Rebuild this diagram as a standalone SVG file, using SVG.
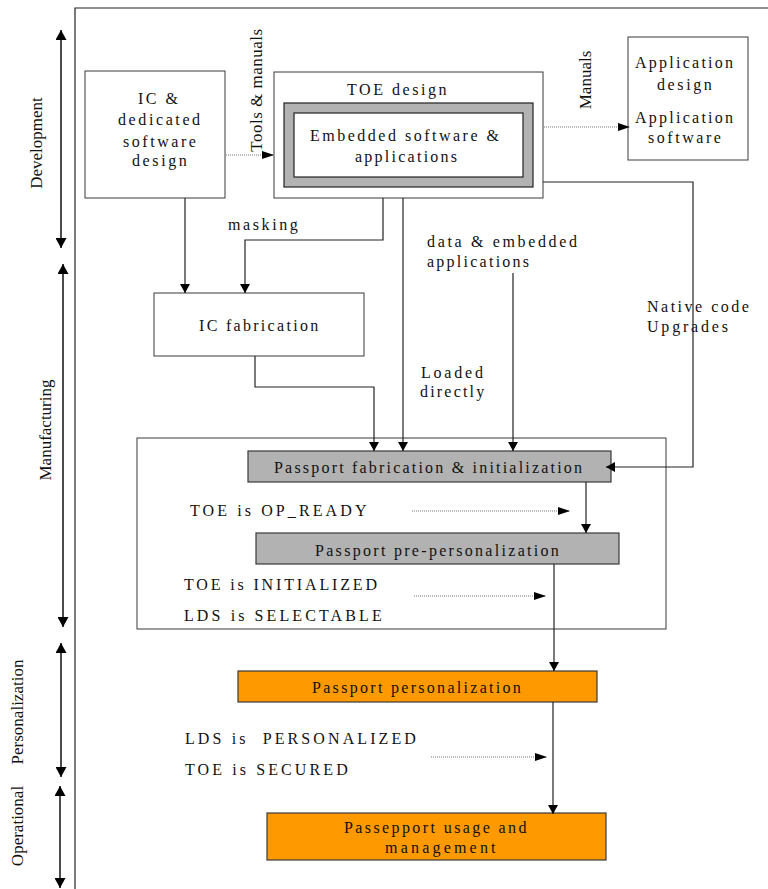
<svg xmlns="http://www.w3.org/2000/svg" width="768" height="889" viewBox="0 0 768 889">
<style>
text{font-family:'Liberation Serif','Times New Roman',serif;font-size:16px;fill:#111}
.box{fill:#fff;stroke:#3a3a3a;stroke-width:1}
.frame-box{fill:none;stroke:#3a3a3a;stroke-width:1}
.gray{fill:#b2b2b2;stroke:#3a3a3a;stroke-width:1.2}
.orange{fill:#ff9900;stroke:#3a3a3a;stroke-width:1.2}
.ln{fill:none;stroke:#222;stroke-width:1.2}
.dot{fill:none;stroke:#777;stroke-width:1;stroke-dasharray:1 1}
.phase{fill:none;stroke:#111;stroke-width:1.5}
.frame{fill:none;stroke:#222;stroke-width:1.2}
.rot{font-size:17px}
</style>
<defs>
<marker id="ah" viewBox="0 0 9 10" refX="9" refY="5" markerWidth="9" markerHeight="10" orient="auto" markerUnits="userSpaceOnUse"><path d="M0,0 L9,5 L0,10 z" fill="#000"/></marker>
<marker id="ahd" viewBox="0 0 12 8" refX="12" refY="4" markerWidth="12" markerHeight="8" orient="auto" markerUnits="userSpaceOnUse"><path d="M0,0 L12,4 L0,8 z" fill="#000"/></marker>
<marker id="ph" viewBox="0 0 10 11" refX="10" refY="5.5" markerWidth="10" markerHeight="11" orient="auto-start-reverse" markerUnits="userSpaceOnUse"><path d="M0,0 L10,5.5 L0,11 z" fill="#000"/></marker>
</defs>

<g id="frame">
<path class="frame" d="M75,889 V8 H768"/>
</g>

<g id="manufacturing-box">
<rect class="frame-box" x="137" y="438" width="529" height="191"/>
</g>

<g id="phases">
<path class="phase" d="M61,30 V248" marker-start="url(#ph)" marker-end="url(#ph)"/>
<text class="rot" transform="translate(42,143) rotate(-90)" text-anchor="middle">Development</text>
<path class="phase" d="M63,264 V627" marker-start="url(#ph)" marker-end="url(#ph)"/>
<text class="rot" transform="translate(51,430) rotate(-90)" text-anchor="middle">Manufacturing</text>
<path class="phase" d="M61,643 V777" marker-start="url(#ph)" marker-end="url(#ph)"/>
<text class="rot" transform="translate(23,712) rotate(-90)" text-anchor="middle">Personalization</text>
<path class="phase" d="M60,786 V888" marker-start="url(#ph)" marker-end="url(#ph)"/>
<text class="rot" transform="translate(23,826) rotate(-90)" text-anchor="middle">Operational</text>
</g>

<g id="ic-design">
<rect class="box" x="85" y="71" width="140" height="127"/>
<text x="138" y="104" letter-spacing="2.5">IC &amp;</text>
<text x="118" y="125" letter-spacing="2.6">dedicated</text>
<text x="123" y="147" letter-spacing="2.55">software</text>
<text x="132" y="166" letter-spacing="2.6">design</text>
</g>

<g id="toe-design">
<rect class="box" x="274" y="72" width="269" height="126"/>
<text x="347" y="95" letter-spacing="2.55">TOE design</text>
<rect x="284" y="103" width="249" height="84" fill="#b2b2b2" stroke="#222" stroke-width="1.2"/>
<rect x="294" y="113" width="229" height="64" fill="#fff" stroke="#222" stroke-width="1.2"/>
<text x="310" y="141" letter-spacing="2.5">Embedded software &amp;</text>
<text x="355" y="162" letter-spacing="2.25">applications</text>
</g>

<g id="application">
<rect class="box" x="628" y="37" width="120" height="123"/>
<text x="635" y="68" letter-spacing="2.25">Application</text>
<text x="657" y="90" letter-spacing="2.6">design</text>
<text x="635" y="123" letter-spacing="2.25">Application</text>
<text x="648" y="143" letter-spacing="2.55">software</text>
</g>

<g id="ic-fabrication">
<rect class="box" x="154" y="293" width="210" height="63"/>
<text x="199" y="331" letter-spacing="2.3">IC fabrication</text>
</g>

<g id="passport-fabrication">
<rect class="gray" x="248" y="451" width="363" height="31"/>
<text x="274" y="473" letter-spacing="2.2">Passport fabrication &amp; initialization</text>
</g>

<g id="pre-personalization">
<rect class="gray" x="256" y="533" width="363" height="31"/>
<text x="315" y="556" letter-spacing="2.3">Passport pre-personalization</text>
</g>

<g id="personalization">
<rect class="orange" x="238" y="671" width="359" height="31"/>
<text x="312" y="693" letter-spacing="2.3">Passport personalization</text>
</g>

<g id="usage">
<rect class="orange" x="267" y="813" width="339" height="47"/>
<text x="344" y="833" letter-spacing="2.4">Passepport usage and</text>
<text x="385" y="853" letter-spacing="3.2">management</text>
</g>

<g id="labels">
<text class="rot" transform="translate(262,90) rotate(-90)" text-anchor="middle" letter-spacing="0.5">Tools &amp; manuals</text>
<text class="rot" transform="translate(591,80) rotate(-90)" text-anchor="middle">Manuals</text>
<text x="228" y="230" letter-spacing="2.6">masking</text>
<text x="427" y="247" letter-spacing="2.65">data &amp; embedded</text>
<text x="427" y="267" letter-spacing="2.25">applications</text>
<text x="421" y="378" letter-spacing="2.8">Loaded</text>
<text x="420" y="397" letter-spacing="2.2">directly</text>
<text x="647" y="312" letter-spacing="2.5">Native code</text>
<text x="647" y="332" letter-spacing="2.8">Upgrades</text>
<text x="190" y="516" letter-spacing="3.1">TOE is OP_READY</text>
<text x="184" y="590" letter-spacing="2.85">TOE is INITIALIZED</text>
<text x="184" y="621" letter-spacing="3.1">LDS is SELECTABLE</text>
<text x="185" y="744" letter-spacing="3.1" xml:space="preserve">LDS is  PERSONALIZED</text>
<text x="185" y="775" letter-spacing="3.1">TOE is SECURED</text>
</g>

<g id="connectors">
<path class="ln" d="M185,198 V293" marker-end="url(#ah)"/>
<path class="ln" d="M383,198 V240 H245 V293" marker-end="url(#ah)"/>
<path class="ln" d="M403,198 V451" marker-end="url(#ah)"/>
<path class="ln" d="M513,273 V451" marker-end="url(#ah)"/>
<path class="ln" d="M255,356 V387 H374 V451" marker-end="url(#ah)"/>
<path class="ln" d="M543,182 H693 V467 H606" marker-end="url(#ah)"/>
<path class="ln" d="M586,482 V533" marker-end="url(#ah)"/>
<path class="ln" d="M554,564 V671" marker-end="url(#ah)"/>
<path class="ln" d="M553,702 V814" marker-end="url(#ah)"/>
<path class="dot" d="M226,155 H274" marker-end="url(#ahd)"/>
<path class="dot" d="M544,127 H630" marker-end="url(#ahd)"/>
<path class="dot" d="M412,511 H570" marker-end="url(#ahd)"/>
<path class="dot" d="M414,596 H546" marker-end="url(#ahd)"/>
<path class="dot" d="M431,757 H547" marker-end="url(#ahd)"/>
</g>
</svg>
